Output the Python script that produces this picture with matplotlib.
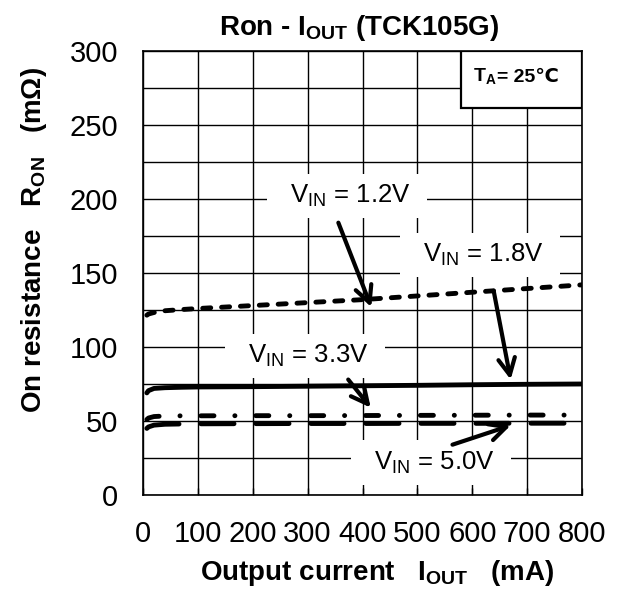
import matplotlib
matplotlib.use('Agg')
import matplotlib.pyplot as plt
from matplotlib.patches import Rectangle

plt.rcParams['font.family'] = ['Liberation Sans', 'DejaVu Sans']
plt.rcParams['mathtext.fontset'] = 'custom'
plt.rcParams['mathtext.rm'] = 'Liberation Sans'
plt.rcParams['mathtext.bf'] = 'Liberation Sans:bold'
plt.rcParams['lines.scale_dashes'] = False

# Output current (mA) and on resistance (mOhm)
iout = [7, 10, 20, 40, 70, 100, 200, 300, 400, 500, 600, 700, 800]
ron_1v2 = [121.5, 122.3, 123.3, 124.5, 125.3, 126, 128, 130, 132, 134.5, 137, 139.5, 142]
ron_1v8 = [69, 70.5, 72, 72.5, 72.8, 73, 73.2, 73.5, 73.8, 74.1, 74.5, 74.8, 75]
ron_3v3 = [51, 52, 53, 53.4, 53.5, 53.5, 53.6, 53.6, 53.7, 53.8, 53.9, 54, 54]
ron_5v0 = [45, 46, 47.2, 47.8, 48, 48.1, 48.2, 48.3, 48.3, 48.4, 48.4, 48.5, 48.5]

x_ticks = [0, 100, 200, 300, 400, 500, 600, 700, 800]
y_ticks = [0, 50, 100, 150, 200, 250, 300]

fig = plt.figure(figsize=(6.18, 5.89), dpi=100)
ax = fig.add_axes([143 / 618, 94 / 589, 439 / 618, 444 / 589])

lw = 3.5
ax.plot(iout, ron_1v2, color='black', lw=lw, dashes=(5.8, 7.8), dash_capstyle='round')
ax.plot(iout, ron_1v8, color='black', lw=lw, solid_capstyle='round')
ax.plot(iout, ron_3v3, color='black', lw=lw, dashes=(9.4, 15, 0.1, 15), dash_capstyle='round')
ax.plot(iout, ron_5v0, color='black', lw=lw, dashes=(23.8, 15.8), dash_capstyle='round')

ax.set_xlim(0, 800)
ax.set_ylim(0, 300)
ax.set_xticks(x_ticks)
ax.set_yticks(y_ticks)
ax.set_yticks(range(0, 301, 25), minor=True)
ax.grid(True, which='both', color='black', lw=1.0)
ax.set_axisbelow(True)
ax.tick_params(axis='x', direction='in', length=5, width=1, pad=18, labelsize=21)
ax.tick_params(axis='y', which='both', length=0, pad=18, labelsize=21)
ax.tick_params(axis='x', which='minor', length=0)
for s in ax.spines.values():
    s.set_linewidth(1.2)

# temperature box in the upper right corner
ax.add_patch(Rectangle((0.724, 0.872), 0.276, 0.128, transform=ax.transAxes,
                       facecolor='white', edgecolor='black', lw=1.6, zorder=4))
ax.text(0.806, 0.930, r'T$_{\mathbf{A}}$', transform=ax.transAxes,
        ha='right', va='baseline', fontsize=14, fontweight='bold', zorder=5)
ax.text(0.806, 0.930, '= 25℃', transform=ax.transAxes,
        ha='left', va='baseline', fontsize=14, fontweight='bold', zorder=5)

# curve labels with white boxes
box = dict(facecolor='white', edgecolor='none', boxstyle='square,pad=0.35')
ax.text(372, 202, r'  V$_{\mathrm{IN}}$ = 1.2V  ', ha='center', va='center', fontsize=18.5, bbox=box)
ax.text(615, 162, r'  V$_{\mathrm{IN}}$ = 1.8V  ', ha='center', va='center', fontsize=18.5, bbox=box)
ax.text(296, 94, r'  V$_{\mathrm{IN}}$ = 3.3V  ', ha='center', va='center', fontsize=18.5, bbox=box)
ax.text(524, 22, r'  V$_{\mathrm{IN}}$ = 5.0V  ', ha='center', va='center', fontsize=18.5, bbox=box)

# arrows from the labels to the curves
arrow = dict(arrowstyle='->', lw=3, color='black', mutation_scale=30, shrinkA=0, shrinkB=0)
ax.annotate('', xy=(416, 127), xytext=(356, 184), arrowprops=arrow)
ax.annotate('', xy=(670, 78), xytext=(639, 138), arrowprops=arrow)
ax.annotate('', xy=(415, 59), xytext=(374, 78), arrowprops=arrow)
ax.annotate('', xy=(670, 47), xytext=(564, 34), arrowprops=arrow)

fig.text(359 / 618, 1 - 35 / 589, r'Ron - I$_{\mathbf{OUT}}$ (TCK105G)',
         ha='center', va='baseline', fontsize=20, fontweight='bold')
fig.text(377 / 618, 1 - 580 / 589, r'Output current   I$_{\mathbf{OUT}}$   (mA)',
         ha='center', va='baseline', fontsize=20, fontweight='bold')
fig.text(34 / 618, 1 - 240 / 589, r'On resistance   R$_{\mathbf{ON}}$   (mΩ)',
         ha='center', va='center', rotation=90, fontsize=20, fontweight='bold')

fig.savefig('out.png', dpi=100)
